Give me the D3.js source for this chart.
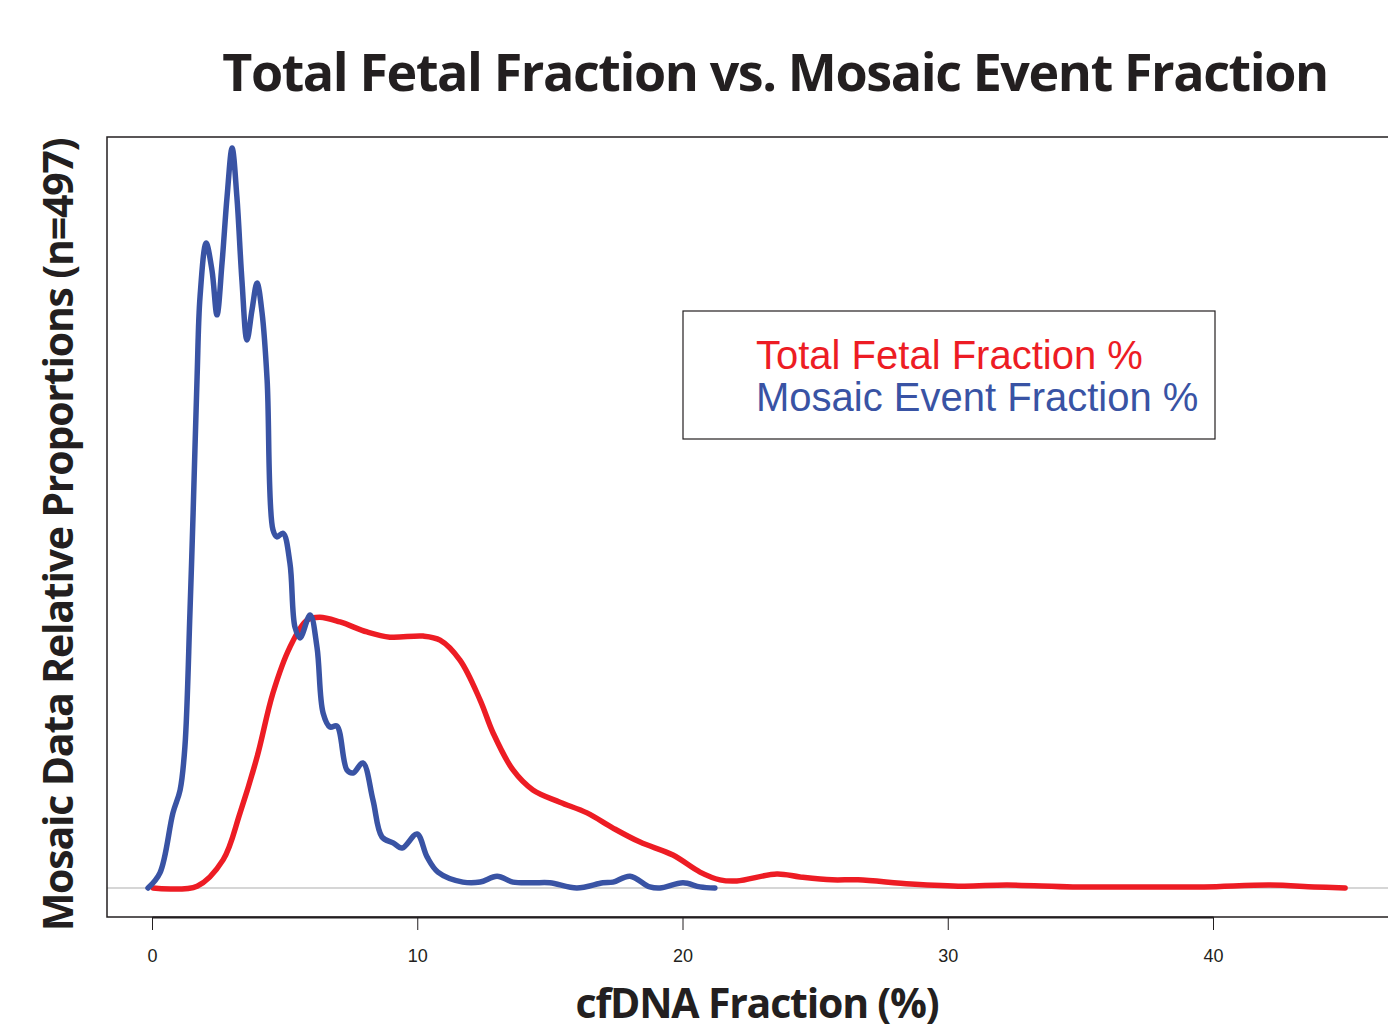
<!DOCTYPE html>
<html>
<head>
<meta charset="utf-8">
<script src="https://cdn.jsdelivr.net/npm/d3@7"></script>
<style>
  body { margin: 0; background: #fff; }
  svg { display: block; }
</style>
</head>
<body>
<div id="chart"></div>
<script>
// density curves

var xTicks = [0, 10, 20, 30, 40];

var fetalX = [0.04, 1.70, 2.68, 3.32, 3.96, 4.56, 5.20, 5.84, 6.33, 7.09, 8.11, 8.97, 10.22, 10.86, 11.61,
  12.37, 12.86, 13.61, 14.36, 15.38, 16.40, 17.38, 18.40, 19.64, 20.66, 21.41, 22.05, 23.56, 24.43, 25.64,
  26.62, 28.61, 30.57, 32.23, 34.72, 37.21, 39.66, 42.15, 43.81, 44.98];
var fetalY = [0, 0.0005, 0.0076, 0.0203, 0.0354, 0.0527, 0.0651, 0.0724, 0.0732, 0.0719, 0.0692, 0.0678, 0.0681, 0.0670, 0.0616,
  0.0508, 0.0419, 0.0319, 0.0265, 0.0232, 0.0203, 0.0162, 0.0124, 0.0089, 0.0043, 0.0022, 0.0019, 0.0038, 0.0030, 0.0022,
  0.0022, 0.0011, 0.0005, 0.0008, 0.0003, 0.0003, 0.0003, 0.0008, 0.0003, 0];

var mosaicX = [-0.15, 0.30, 0.79, 1.06, 1.24, 1.43, 1.55, 1.70, 1.81, 2.04, 2.26, 2.45, 2.64, 2.83, 3.02, 3.20, 3.39,
  3.58, 3.77, 3.96, 4.15, 4.34, 4.56, 4.71, 4.94, 5.20, 5.39, 5.58, 5.96, 6.22, 6.45, 6.71, 6.97, 7.35, 7.58, 7.95,
  8.33, 8.67, 9.09, 9.43, 9.99, 10.37, 10.78, 11.72, 12.37, 13.01, 13.61, 14.36, 15.00, 16.02, 17.00, 17.38, 18.02,
  18.77, 19.15, 20.02, 20.66, 21.22];
var mosaicY = [0, 0.0041, 0.0203, 0.0265, 0.0381, 0.0743, 0.1014, 0.1381, 0.1597, 0.1743, 0.1670, 0.1549, 0.1689, 0.1868, 0.2000, 0.1868, 0.1643,
  0.1481, 0.1562, 0.1635, 0.1554, 0.1373, 0.0968, 0.0949, 0.0959, 0.0878, 0.0705, 0.0676, 0.0738, 0.0651, 0.0473, 0.0435, 0.0438, 0.0319, 0.0311, 0.0338,
  0.0238, 0.0138, 0.0122, 0.0108, 0.0146, 0.0084, 0.0043, 0.0016, 0.0016, 0.0032, 0.0016, 0.0014, 0.0014, 0, 0.0014, 0.0016, 0.0032,
  0.0003, 0, 0.0014, 0.0003, 0];

var legendNames = ["Total Fetal Fraction %", "Mosaic Event Fraction %"];
var colors = ["#ed1c24", "#3953a4"];

var totwidth = 1388, totheight = 1031;
var box = {left: 107, top: 137, right: 1392, bottom: 917};

var svg = d3.select("#chart").append("svg")
    .attr("width", totwidth)
    .attr("height", totheight);

var xScale = d3.scaleLinear().domain([0, 40]).range([152, 1213]);
var yScale = d3.scaleLinear().domain([0, 0.2]).range([888, 148]);

// title
svg.append("text")
    .attr("x", 775).attr("y", 91)
    .attr("text-anchor", "middle")
    .style("font-family", "'Open Sans', sans-serif")
    .style("font-weight", 700)
    .style("font-size", "52px")
    .style("letter-spacing", "-1.4px")
    .style("fill", "#231f20")
    .text("Total Fetal Fraction vs. Mosaic Event Fraction");

// zero line
svg.append("line")
    .attr("x1", box.left).attr("x2", box.right)
    .attr("y1", yScale(0)).attr("y2", yScale(0))
    .attr("stroke", "#c8c8c8").attr("stroke-width", 1.5);

// plot frame
svg.append("rect")
    .attr("x", box.left).attr("y", box.top)
    .attr("width", box.right - box.left).attr("height", box.bottom - box.top)
    .attr("fill", "none").attr("stroke", "#231f20").attr("stroke-width", 1.5);

// x axis
var xAxis = svg.append("g")
    .attr("transform", "translate(0," + box.bottom + ")")
    .call(d3.axisBottom(xScale).tickValues(xTicks).tickSize(13).tickPadding(19).tickSizeOuter(0));
xAxis.select(".domain").attr("stroke", "#231f20").attr("stroke-width", 2);
xAxis.selectAll(".tick line").attr("stroke", "#231f20").attr("stroke-width", 1);
xAxis.selectAll(".tick text")
    .style("font-family", "'Liberation Sans Narrow', 'Liberation Sans', sans-serif")
    .style("font-size", "18px")
    .style("fill", "#231f20");

var line = d3.line()
    .x(function(d) { return xScale(d[0]); })
    .y(function(d) { return yScale(d[1]); })
    .curve(d3.curveCatmullRom.alpha(0.5));

var fetal = d3.zip(fetalX, fetalY);
var mosaic = d3.zip(mosaicX, mosaicY);

svg.append("path")
    .datum(fetal)
    .attr("d", line)
    .attr("fill", "none")
    .attr("stroke", colors[0])
    .attr("stroke-width", 5.5)
    .attr("stroke-linecap", "round")
    .attr("stroke-linejoin", "round");

svg.append("path")
    .datum(mosaic)
    .attr("d", line)
    .attr("fill", "none")
    .attr("stroke", colors[1])
    .attr("stroke-width", 5.5)
    .attr("stroke-linecap", "round")
    .attr("stroke-linejoin", "round");

// legend
svg.append("rect")
    .attr("x", 683).attr("y", 311)
    .attr("width", 532).attr("height", 128)
    .attr("fill", "none").attr("stroke", "#231f20").attr("stroke-width", 1.2);

svg.selectAll(".legendText")
    .data(legendNames)
    .enter().append("text")
    .attr("class", "legendText")
    .attr("x", 756)
    .attr("y", function(d, i) { return 369 + i * 42; })
    .style("font-family", "'Liberation Sans', Arial, sans-serif")
    .style("font-size", "40px")
    .style("fill", function(d, i) { return colors[i]; })
    .text(function(d) { return d; });

// axis titles
svg.append("text")
    .attr("x", 757).attr("y", 1018)
    .attr("text-anchor", "middle")
    .style("font-family", "'Open Sans', sans-serif")
    .style("font-weight", 700)
    .style("font-size", "41px")
    .style("letter-spacing", "-1.2px")
    .style("fill", "#231f20")
    .text("cfDNA Fraction (%)");

svg.append("text")
    .attr("transform", "translate(73,535) rotate(-90)")
    .attr("text-anchor", "middle")
    .style("font-family", "'Open Sans', sans-serif")
    .style("font-weight", 700)
    .style("font-size", "41px")
    .style("letter-spacing", "-1.2px")
    .style("fill", "#231f20")
    .text("Mosaic Data Relative Proportions (n=497)");
</script>
</body>
</html>
